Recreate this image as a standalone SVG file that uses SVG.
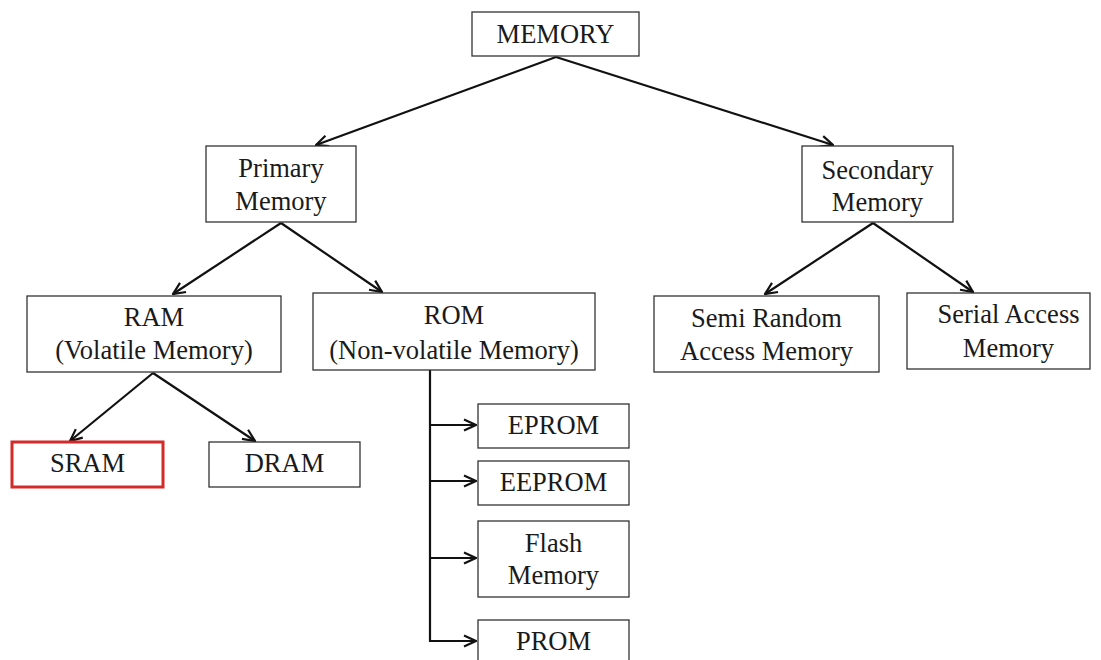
<svg xmlns="http://www.w3.org/2000/svg" width="1101" height="660" viewBox="0 0 1101 660" font-family="'Liberation Serif', 'Times New Roman', Times, serif">
<defs>
<marker id="arr" viewBox="0 0 14 14" refX="13" refY="7" markerWidth="14" markerHeight="14" markerUnits="userSpaceOnUse" orient="auto">
<polyline points="1,1.5 13,7 1,12.5" fill="none" stroke="#111" stroke-width="2.2"/>
</marker>
<style>
.box{fill:#fff;stroke:#333;stroke-width:1.3}
.red{fill:#fff;stroke:#d42a2a;stroke-width:3}
.t{font-family:'Liberation Serif','Times New Roman',Times,serif;font-size:26.5px;fill:#1a1a1a;text-anchor:middle}
.c{fill:none;stroke:#111;stroke-width:2.2}
</style>
</defs>
<rect width="1101" height="660" fill="#fff"/>
<g id="connectors">
<line class="c" x1="556" y1="57" x2="316" y2="145" marker-end="url(#arr)"/>
<line class="c" x1="556" y1="57" x2="833" y2="145" marker-end="url(#arr)"/>
<line class="c" x1="281" y1="223" x2="173" y2="294" marker-end="url(#arr)"/>
<line class="c" x1="281" y1="223" x2="382" y2="292" marker-end="url(#arr)"/>
<line class="c" x1="873" y1="223" x2="765" y2="294" marker-end="url(#arr)"/>
<line class="c" x1="873" y1="223" x2="973" y2="292" marker-end="url(#arr)"/>
<line class="c" x1="153" y1="373" x2="70" y2="441" marker-end="url(#arr)"/>
<line class="c" x1="153" y1="373" x2="255" y2="441" marker-end="url(#arr)"/>
<polyline class="c" points="430,370 430,642"/>
<line class="c" x1="430" y1="425" x2="476" y2="425" marker-end="url(#arr)"/>
<line class="c" x1="430" y1="481" x2="476" y2="481" marker-end="url(#arr)"/>
<line class="c" x1="430" y1="558" x2="476" y2="558" marker-end="url(#arr)"/>
<line class="c" x1="429" y1="641" x2="476" y2="641" marker-end="url(#arr)"/>
</g>
<g id="memory"><rect class="box" x="472" y="12" width="167" height="44"/><text class="t" x="555.5" y="43">MEMORY</text></g>
<g id="primary"><rect class="box" x="206" y="146" width="150" height="76"/><text class="t" x="281" y="177">Primary</text><text class="t" x="281" y="210">Memory</text></g>
<g id="secondary"><rect class="box" x="802" y="146" width="151" height="76"/><text class="t" x="877.5" y="179">Secondary</text><text class="t" x="877.5" y="211">Memory</text></g>
<g id="ram"><rect class="box" x="27" y="296" width="254" height="76"/><text class="t" x="154" y="326">RAM</text><text class="t" x="154" y="359">(Volatile Memory)</text></g>
<g id="rom"><rect class="box" x="313" y="293" width="282" height="77"/><text class="t" x="454" y="324">ROM</text><text class="t" x="454" y="359">(Non-volatile Memory)</text></g>
<g id="semi"><rect class="box" x="654" y="296" width="225" height="76"/><text class="t" x="766.5" y="327">Semi Random</text><text class="t" x="766.5" y="360">Access Memory</text></g>
<g id="serial"><rect class="box" x="907" y="293" width="183" height="76"/><text class="t" x="1008.5" y="323">Serial Access</text><text class="t" x="1008.5" y="357">Memory</text></g>
<g id="sram"><rect class="red" x="12" y="442" width="151" height="45"/><text class="t" x="87.5" y="472">SRAM</text></g>
<g id="dram"><rect class="box" x="209" y="442" width="151" height="45"/><text class="t" x="284.5" y="472">DRAM</text></g>
<g id="eprom"><rect class="box" x="478" y="404" width="151" height="44"/><text class="t" x="553.5" y="434">EPROM</text></g>
<g id="eeprom"><rect class="box" x="478" y="461" width="151" height="44"/><text class="t" x="553.5" y="491">EEPROM</text></g>
<g id="flash"><rect class="box" x="478" y="521" width="151" height="76"/><text class="t" x="553.5" y="552">Flash</text><text class="t" x="553.5" y="584">Memory</text></g>
<g id="prom"><rect class="box" x="478" y="620" width="151" height="50"/><text class="t" x="553.5" y="650">PROM</text></g>
</svg>
